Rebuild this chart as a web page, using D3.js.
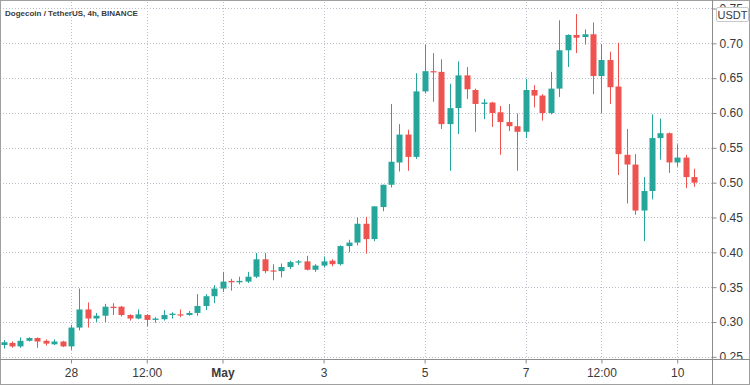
<!DOCTYPE html>
<html><head><meta charset="utf-8">
<script src="https://cdn.jsdelivr.net/npm/d3@7/dist/d3.min.js"></script>
<style>html,body{margin:0;padding:0;background:#fff;}svg{display:block;}</style>
</head><body>
<script>
const opens  = [.267,.270,.265,.273,.277,.273,.268,.272,.265,.292,.318,.305,.309,.322,.322,.310,.305,.310,.303,.304,.310,.311,.310,.313,.323,.337,.348,.359,.357,.358,.365,.390,.374,.373,.379,.386,.387,.375,.381,.388,.383,.409,.414,.441,.419,.465,.497,.529,.569,.537,.631,.660,.659,.584,.607,.654,.633,.613,.615,.601,.587,.581,.573,.633,.625,.600,.635,.690,.712,.709,.713,.653,.676,.638,.540,.526,.460,.488,.564,.571,.529,.536,.508];
const highs  = [.274,.272,.278,.278,.278,.275,.275,.273,.296,.348,.328,.313,.326,.327,.323,.311,.318,.311,.307,.317,.314,.318,.316,.340,.340,.353,.372,.362,.365,.372,.399,.399,.383,.384,.388,.389,.395,.383,.394,.390,.410,.418,.450,.451,.466,.497,.613,.584,.576,.657,.698,.686,.677,.642,.674,.666,.635,.620,.616,.610,.613,.599,.649,.640,.627,.659,.733,.713,.742,.720,.730,.699,.688,.701,.577,.541,.508,.598,.592,.572,.555,.540,.520];
const lows   = [.262,.263,.263,.272,.263,.266,.267,.264,.260,.288,.292,.300,.300,.310,.308,.302,.304,.294,.299,.302,.305,.307,.309,.309,.317,.327,.343,.345,.354,.356,.363,.370,.360,.364,.376,.382,.374,.372,.378,.380,.381,.400,.410,.398,.416,.459,.493,.516,.517,.534,.628,.616,.577,.517,.570,.620,.573,.591,.580,.540,.574,.517,.564,.608,.589,.598,.623,.666,.686,.698,.627,.600,.613,.511,.470,.454,.416,.476,.533,.514,.523,.492,.494];
const closes = [.271,.265,.273,.277,.272,.269,.272,.265,.292,.318,.305,.309,.322,.320,.310,.305,.311,.303,.305,.310,.312,.310,.313,.323,.337,.348,.358,.357,.359,.365,.390,.373,.373,.379,.386,.387,.375,.381,.387,.383,.409,.414,.441,.419,.466,.497,.530,.569,.537,.631,.660,.659,.584,.607,.654,.634,.613,.615,.600,.587,.581,.573,.633,.625,.600,.635,.690,.712,.708,.713,.653,.676,.637,.541,.526,.460,.488,.564,.571,.529,.536,.508,.500];
const xTickIdx = [8,17,26,38,50,62,71,80];
const xTickLabels = ["28","12:00","May","3","5","7","12:00","10"];
const yTicks = [0.25,0.30,0.35,0.40,0.45,0.50,0.55,0.60,0.65,0.70,0.75];
const title = "Dogecoin / TetherUS, 4h, BINANCE";
const currency = "USDT";

const W = 750, H = 385;
const plot = {left: 0, right: 712, top: 2, bottom: 359};
const up = "#26a69a", down = "#ef5350";

const x = d3.scaleLinear().domain([-0.4276, 84.13]).range([plot.left, plot.right]);
const y = d3.scaleLinear().domain([0.2469, 0.7593]).range([plot.bottom, plot.top]);

const svg = d3.select("body").append("svg").attr("width", W).attr("height", H)
  .style("font-family", "'Liberation Sans', Arial, sans-serif");
svg.append("rect").attr("width", W).attr("height", H).attr("fill", "#fff");

const defs = svg.append("defs");
defs.append("clipPath").attr("id", "clip")
  .append("rect").attr("x", plot.left).attr("y", plot.top)
  .attr("width", plot.right - plot.left).attr("height", plot.bottom - plot.top);
defs.append("clipPath").attr("id", "yclip")
  .append("rect").attr("x", plot.right).attr("y", 0).attr("width", W - plot.right).attr("height", plot.bottom);

const grid = svg.append("g").attr("stroke", "#b9c0cb").attr("stroke-dasharray", "1,2").attr("stroke-width", 1);
grid.selectAll("line.h").data(yTicks).join("line").attr("class", "h")
  .attr("x1", plot.left).attr("x2", plot.right)
  .attr("y1", d => Math.round(y(d)) + 0.5).attr("y2", d => Math.round(y(d)) + 0.5);
grid.selectAll("line.v").data(xTickIdx).join("line").attr("class", "v")
  .attr("y1", plot.top).attr("y2", plot.bottom)
  .attr("x1", d => Math.round(x(d)) + 0.5).attr("x2", d => Math.round(x(d)) + 0.5);

const data = opens.map((o, i) => ({i, o, h: highs[i], l: lows[i], c: closes[i]}));
const cg = svg.append("g").attr("clip-path", "url(#clip)");
const bw = 6;
const candles = cg.selectAll("g.c").data(data).join("g").attr("class", "c");
candles.append("line")
  .attr("x1", d => Math.round(x(d.i)) + 0.5).attr("x2", d => Math.round(x(d.i)) + 0.5)
  .attr("y1", d => y(d.h)).attr("y2", d => y(d.l))
  .attr("stroke", d => d.c >= d.o ? up : down).attr("stroke-width", 1);
candles.append("rect")
  .attr("x", d => Math.round(x(d.i)) + 0.5 - bw / 2)
  .attr("width", bw)
  .attr("y", d => y(Math.max(d.o, d.c)))
  .attr("height", d => Math.max(1.2, Math.abs(y(d.o) - y(d.c))))
  .attr("fill", d => d.c >= d.o ? up : down);

// frame and axis lines
svg.append("rect").attr("x", 0.5).attr("y", 0.5).attr("width", W - 1).attr("height", H - 1)
  .attr("fill", "none").attr("stroke", "#a0a0a0");
svg.append("line").attr("x1", 0).attr("x2", W).attr("y1", plot.bottom + 0.5).attr("y2", plot.bottom + 0.5)
  .attr("stroke", "#8c8c8c");
svg.append("line").attr("x1", plot.right + 0.5).attr("x2", plot.right + 0.5).attr("y1", 0).attr("y2", H)
  .attr("stroke", "#8c8c8c");

// y axis (right)
const yAxis = d3.axisRight(y).tickValues(yTicks).tickFormat(d3.format(".2f")).tickSize(4).tickPadding(3);
const ya = svg.append("g").attr("clip-path", "url(#yclip)")
  .append("g").attr("transform", `translate(${plot.right + 0.5},0)`).call(yAxis);
ya.select(".domain").remove();
ya.selectAll(".tick line").attr("stroke", "#8c8c8c");
ya.selectAll(".tick text").attr("fill", "#3a3a3a").attr("font-size", 12)
  .attr("font-family", "'Liberation Sans', Arial, sans-serif");

// x axis (bottom)
const xAxis = d3.axisBottom(x).tickValues(xTickIdx).tickFormat((d, i) => xTickLabels[i]).tickSize(4).tickPadding(5);
const xa = svg.append("g").attr("transform", `translate(0,${plot.bottom + 0.5})`).call(xAxis);
xa.select(".domain").remove();
xa.selectAll(".tick line").attr("stroke", "#8c8c8c");
xa.selectAll(".tick text").attr("fill", "#3a3a3a").attr("font-size", 12)
  .attr("font-family", "'Liberation Sans', Arial, sans-serif")
  .attr("font-weight", (d, i) => xTickLabels[i] === "May" ? "bold" : "normal");

// currency box (covers the top of the 0.75 label, as in the reference)
svg.append("rect").attr("x", 716.5).attr("y", 7.5).attr("width", 32).attr("height", 14)
  .attr("fill", "#fff").attr("stroke", "#c8c8c8").attr("rx", 1.5);
svg.append("text").attr("x", 732.5).attr("y", 18.5).attr("text-anchor", "middle")
  .attr("font-size", 11).attr("fill", "#3a3a3a").text(currency);

// title
svg.append("text").attr("x", 5).attr("y", 16).attr("font-size", 8).attr("font-weight", "bold")
  .attr("fill", "#3b3b3b").text(title);
</script>
</body></html>
